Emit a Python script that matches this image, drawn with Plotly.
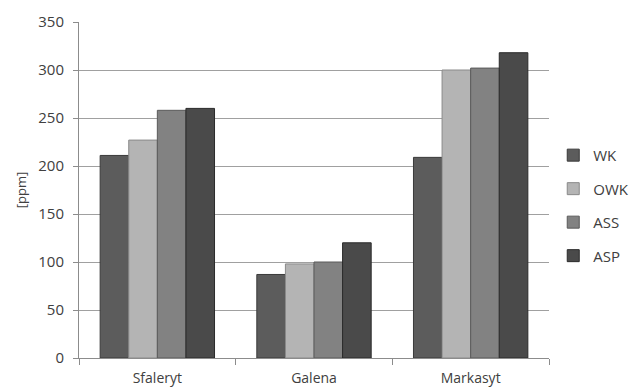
import plotly.graph_objects as go

# Minerals (categories) and measured concentrations per sample group [ppm]
minerals = ["Sfaleryt", "Galena", "Markasyt"]
wk = [211, 87, 209]
owk = [227, 98, 300]
ass = [258, 100, 302]
asp = [260, 120, 318]

series = [
    ("WK", wk, "#5c5c5c", "#3a3a3a"),
    ("OWK", owk, "#b4b4b4", "#8a8a8a"),
    ("ASS", ass, "#828282", "#5a5a5a"),
    ("ASP", asp, "#4a4a4a", "#2a2a2a"),
]

fig = go.Figure()
for name, vals, fill, edge in series:
    fig.add_trace(go.Bar(
        x=minerals, y=vals, name=name,
        marker=dict(color=fill, line=dict(color=edge, width=1)),
        legendgroup=name,
    ))

font_family = "Open Sans, DejaVu Sans, sans-serif"
axis_gray = "#8c8c8c"

fig.update_layout(
    width=633, height=389,
    margin=dict(l=79, r=84, t=22, b=31, autoexpand=False),
    paper_bgcolor="white", plot_bgcolor="white",
    barmode="group", bargap=0.27, bargroupgap=0,
    font=dict(family=font_family, size=14, color="#404040"),
    showlegend=True,
    legend=dict(
        xref="container", yref="container",
        x=0.874, xanchor="left", y=0.472, yanchor="middle",
        font=dict(size=15, color="#404040"),
        tracegroupgap=11,
        itemwidth=30,
        bgcolor="rgba(0,0,0,0)",
    ),
    xaxis=dict(
        automargin=False,
        showline=True, linecolor=axis_gray, linewidth=1,
        ticks="outside", tickson="boundaries", ticklen=6, tickcolor=axis_gray,
        showgrid=False,
        tickfont=dict(size=14),
        ticklabelstandoff=7,
    ),
    yaxis=dict(
        automargin=False,
        range=[0, 350], dtick=50,
        showline=True, linecolor=axis_gray, linewidth=1,
        ticks="outside", ticklen=5, tickcolor=axis_gray,
        showgrid=True, gridcolor="#a0a0a0", gridwidth=1,
        zeroline=False,
        tickfont=dict(size=15),
        ticklabelstandoff=6,
        title=dict(text="[ppm]", font=dict(size=13), standoff=8),
    ),
)

fig.write_html("out.html")
